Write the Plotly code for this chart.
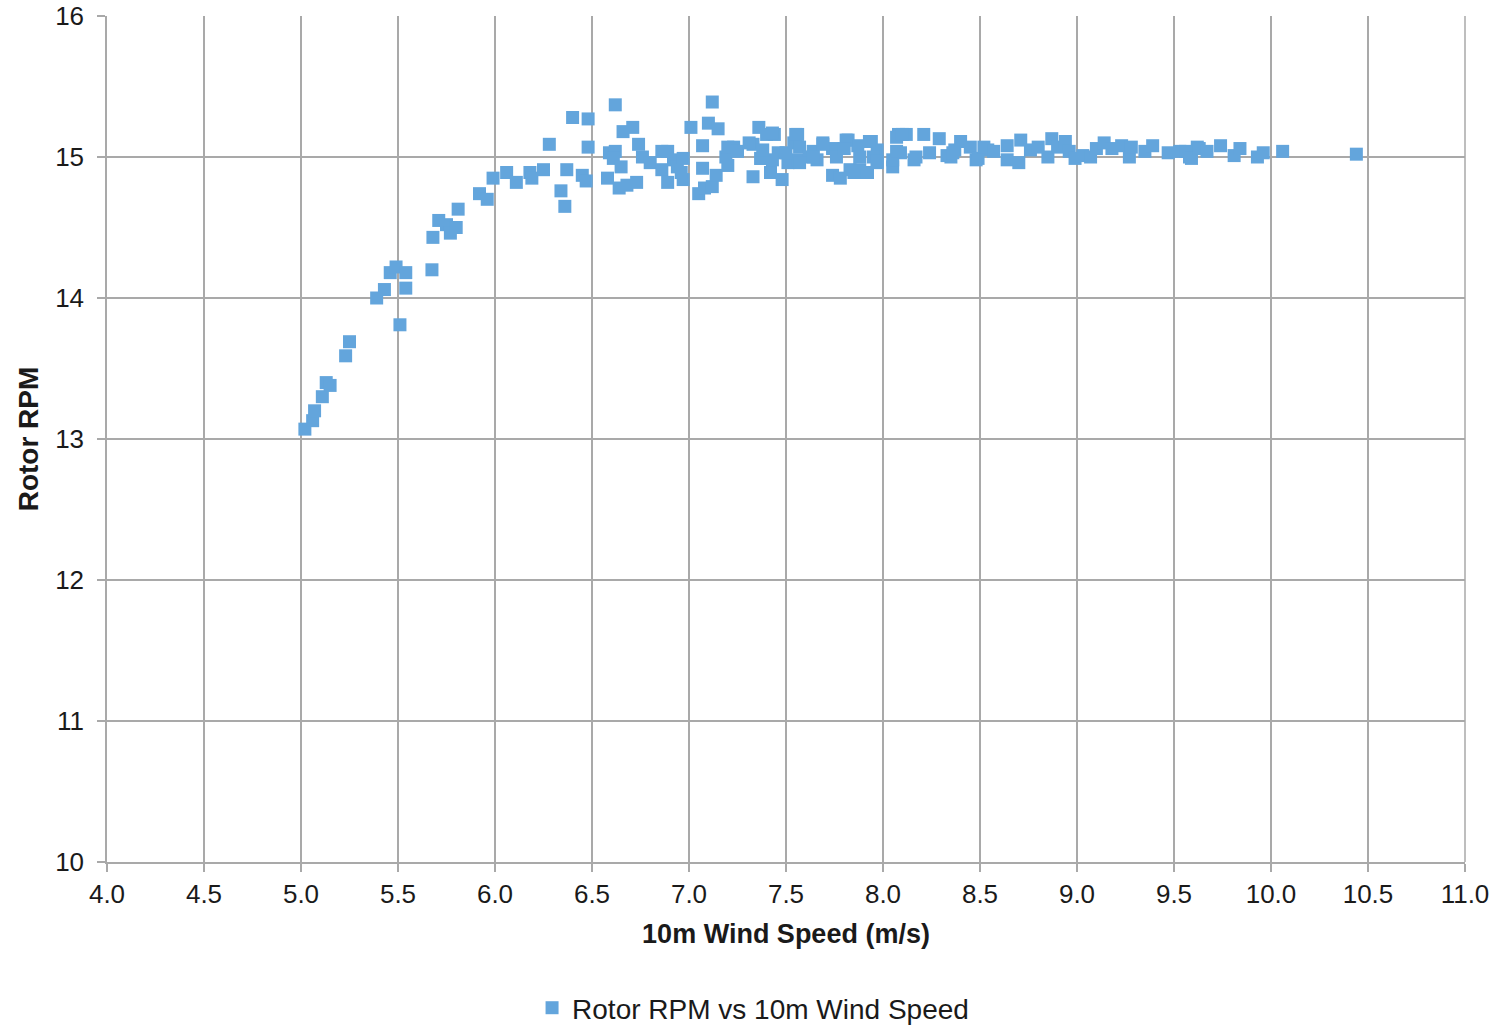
import plotly.graph_objects as go

wind_speed = [
    5.02, 5.06, 5.07, 5.11, 5.13, 5.15, 5.23, 5.25, 5.39, 5.43, 5.46, 5.49, 5.54, 5.54, 5.51,
    5.675, 5.68, 5.71, 5.75, 5.77, 5.80, 5.81, 5.92, 5.96, 5.99,
    6.06, 6.11, 6.18, 6.19, 6.25, 6.28, 6.37, 6.34, 6.36, 6.40, 6.45, 6.47, 6.48, 6.48,
    6.62, 6.59, 6.62, 6.61, 6.65, 6.58, 6.64, 6.68, 6.73, 6.66, 6.71, 6.74, 6.76, 6.80,
    6.86, 6.89, 6.86, 6.89, 6.92, 6.94, 6.97, 6.97, 6.96, 7.01, 7.07, 7.07, 7.05, 7.08,
    7.12, 7.14, 7.12, 7.10, 7.15, 7.19, 7.20, 7.23, 7.25, 7.20,
    7.36, 7.33, 7.40, 7.44, 7.33, 7.37, 7.42, 7.46, 7.48, 7.56, 7.54, 7.51, 7.56, 7.57,
    7.62, 7.64, 7.69, 7.66, 7.74, 7.74, 7.78, 7.82, 7.83, 7.87, 7.88, 7.91, 7.94, 7.97,
    7.97, 7.95, 8.05, 8.09, 8.08, 8.12, 8.21, 8.17, 8.24, 8.29, 8.33, 8.37,
    7.31, 7.43, 7.55, 7.37, 7.43, 7.50, 7.57, 7.69, 7.64, 7.76, 7.81, 7.87, 7.93, 7.88,
    7.38, 8.05, 8.07, 7.85, 7.92, 7.80, 7.97, 8.10, 8.07, 8.16, 8.35, 8.48, 8.54,
    8.40, 8.36, 8.45, 8.49, 8.52, 8.57, 8.64, 8.64, 8.71, 8.70, 8.76, 8.80, 8.85, 8.87,
    8.90, 8.94, 8.96, 8.99, 9.03, 9.07, 9.10, 9.14, 9.18, 9.23, 9.27, 9.28, 9.35, 9.39,
    9.47, 9.53, 9.58, 9.62, 9.56, 9.59, 9.63, 9.67, 9.74, 9.81, 9.84, 9.93, 9.96,
    10.06, 10.44,
]

rotor_rpm = [
    13.07, 13.13, 13.20, 13.30, 13.40, 13.38, 13.59, 13.69, 14.00, 14.06, 14.18, 14.22, 14.18, 14.07, 13.81,
    14.20, 14.43, 14.55, 14.52, 14.46, 14.50, 14.63, 14.74, 14.70, 14.85,
    14.89, 14.82, 14.89, 14.85, 14.91, 15.09, 14.91, 14.76, 14.65, 15.28, 14.87, 14.83, 15.27, 15.07,
    15.37, 15.03, 15.04, 14.99, 14.93, 14.85, 14.78, 14.80, 14.82, 15.18, 15.21, 15.09, 15.00, 14.96,
    15.04, 15.04, 14.91, 14.82, 14.98, 14.93, 14.99, 14.84, 14.89, 15.21, 15.08, 14.92, 14.74, 14.78,
    14.79, 14.87, 15.39, 15.24, 15.20, 15.00, 15.07, 15.07, 15.04, 14.94,
    15.21, 15.09, 15.16, 15.16, 14.86, 14.99, 14.89, 15.03, 14.84, 15.16, 15.10, 14.96, 14.98, 15.07,
    15.00, 15.04, 15.10, 14.98, 15.06, 14.87, 14.85, 15.12, 14.91, 15.08, 14.91, 14.89, 15.11, 15.05,
    14.96, 15.00, 14.93, 15.03, 15.16, 15.16, 15.16, 15.00, 15.03, 15.13, 15.01, 15.05,
    15.10, 15.17, 15.16, 14.99, 14.98, 15.03, 14.96, 15.09, 15.00, 15.00, 15.12, 14.90, 15.11, 15.00,
    15.05, 14.98, 15.14, 14.89, 14.89, 15.06, 14.97, 15.16, 15.04, 14.98, 15.00, 14.98, 15.05,
    15.11, 15.03, 15.07, 14.99, 15.07, 15.04, 15.08, 14.98, 15.12, 14.96, 15.05, 15.07, 15.00, 15.13,
    15.07, 15.11, 15.04, 14.99, 15.01, 15.00, 15.06, 15.10, 15.06, 15.08, 15.00, 15.07, 15.04, 15.08,
    15.03, 15.04, 15.00, 15.07, 15.04, 14.99, 15.06, 15.04, 15.08, 15.01, 15.06, 15.00, 15.03,
    15.04, 15.02,
]

x_ticks = [4.0, 4.5, 5.0, 5.5, 6.0, 6.5, 7.0, 7.5, 8.0, 8.5, 9.0, 9.5, 10.0, 10.5, 11.0]
y_ticks = [10, 11, 12, 13, 14, 15, 16]

FONT = "Liberation Sans, Arial, sans-serif"
GRID = "#a9a9a9"
BLUE = "#63a5dc"
TEXT = "#1a1a1a"

fig = go.Figure()
fig.add_trace(go.Scatter(
    x=wind_speed, y=rotor_rpm, mode="markers",
    name="Rotor RPM vs 10m Wind Speed",
    marker=dict(symbol="square", size=13, color=BLUE, line=dict(width=0)),
))

fig.update_layout(
    width=1503, height=1025,
    margin=dict(l=107, r=38, t=16, b=163, autoexpand=False),
    paper_bgcolor="white", plot_bgcolor="white",
    font=dict(family=FONT, size=26, color=TEXT),
    showlegend=True,
    legend=dict(orientation="h", x=0.313, xanchor="left", y=-0.1726, yanchor="middle",
                font=dict(size=28, color=TEXT), itemsizing="trace"),
    xaxis=dict(
        range=[4.0, 11.0], tickvals=x_ticks, ticktext=[f"{v:.1f}" for v in x_ticks],
        showgrid=True, gridcolor=GRID, gridwidth=1.5,
        showline=True, linecolor=GRID, linewidth=1.5, mirror=False,
        ticks="outside", ticklen=8, tickcolor=GRID, tickwidth=1.5,
        tickfont=dict(size=26), automargin=False,
        zeroline=False,
        title=dict(text="<b>10m Wind Speed (m/s)</b>", standoff=16, font=dict(size=27)),
    ),
    yaxis=dict(
        range=[10, 16], tickvals=y_ticks,
        showgrid=True, gridcolor=GRID, gridwidth=1.5,
        showline=True, linecolor=GRID, linewidth=1.5,
        ticks="outside", ticklen=8, tickcolor=GRID, tickwidth=1.5,
        ticklabelstandoff=8, tickfont=dict(size=26), automargin=False,
        zeroline=False,
        title=dict(text="<b>Rotor RPM</b>", standoff=8, font=dict(size=28)),
    ),
)

fig.update_layout(shapes=[dict(type="line", xref="paper", yref="paper", x0=1, x1=1, y0=0, y1=1,
                               line=dict(color=GRID, width=1.5))])

fig.write_html("out.html")
